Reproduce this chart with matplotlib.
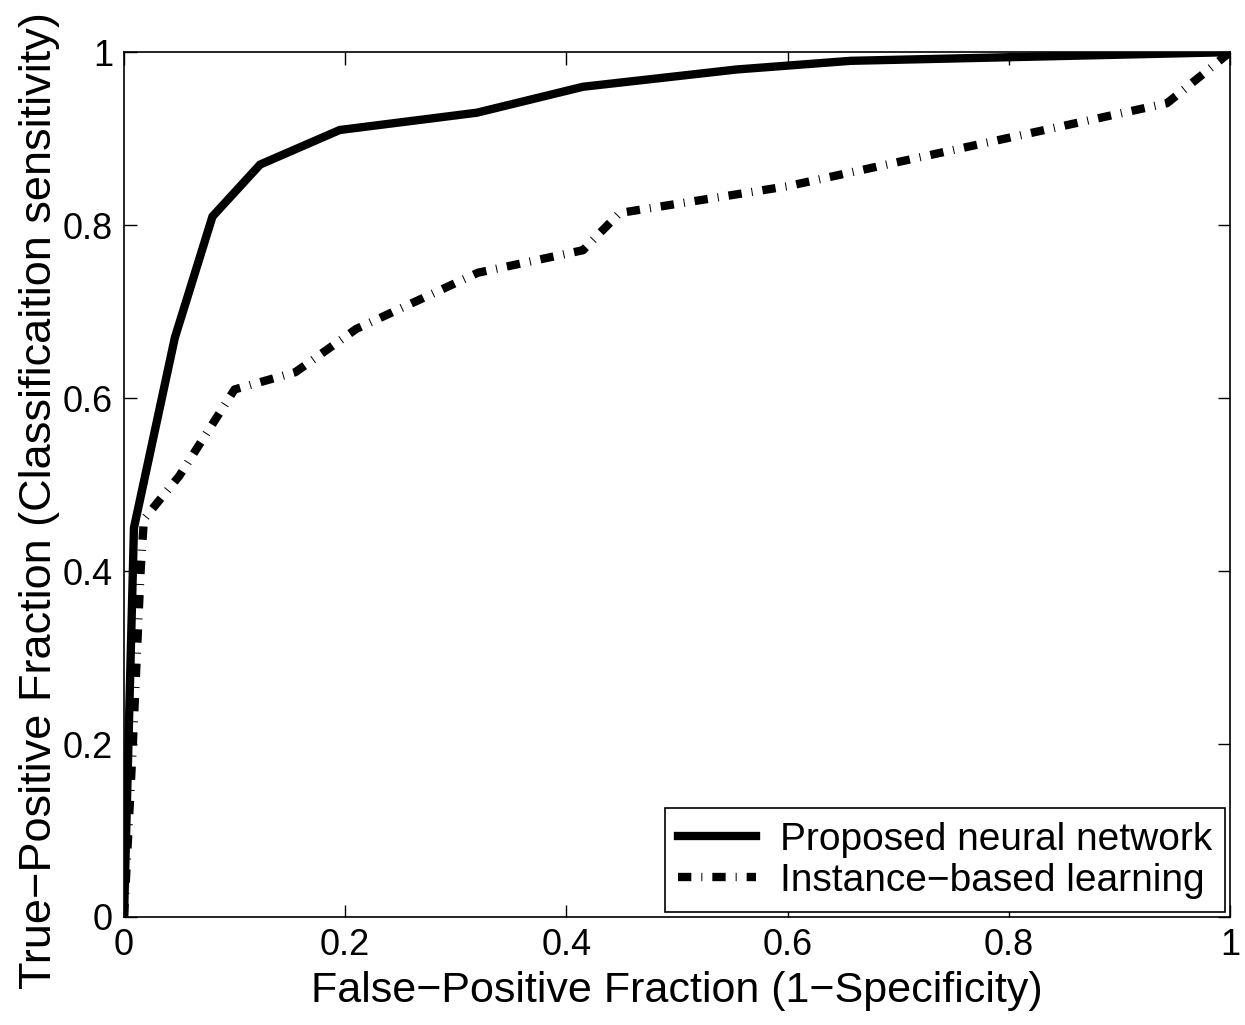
import matplotlib.pyplot as plt

plt.rcParams['font.family'] = ['Liberation Sans', 'DejaVu Sans']

# ROC points
fpf_nn = [0, 0.009, 0.046, 0.080, 0.123, 0.195, 0.319, 0.415, 0.554, 0.657, 1.0]
tpf_nn = [0, 0.45, 0.67, 0.81, 0.87, 0.91, 0.93, 0.96, 0.98, 0.99, 1.0]

fpf_ibl = [0, 0.008, 0.015, 0.018, 0.05, 0.10, 0.155, 0.21, 0.32, 0.415, 0.448, 0.60, 0.943, 1.0]
tpf_ibl = [0, 0.20, 0.40, 0.46, 0.51, 0.61, 0.63, 0.68, 0.745, 0.771, 0.814, 0.845, 0.941, 1.0]

ticks = [0, 0.2, 0.4, 0.6, 0.8, 1]
tick_labels = ['0', '0.2', '0.4', '0.6', '0.8', '1']

fig = plt.figure(figsize=(12.45, 10.25), dpi=100)
ax = fig.add_axes([0.0996, 0.1054, 0.8884, 0.8437])

ax.plot(fpf_nn, tpf_nn, color='black', lw=6, solid_joinstyle='miter',
        label='Proposed neural network')
ax.plot(fpf_ibl, tpf_ibl, color='black', lw=6, dashes=[1.6, 1.2, 0.12, 1.2],
        dash_capstyle='butt', label='Instance\u2212based learning')

ax.set_xlim(0, 1)
ax.set_ylim(0, 1)
ax.set_xticks(ticks)
ax.set_xticklabels(tick_labels)
ax.set_yticks(ticks)
ax.set_yticklabels(tick_labels)
ax.tick_params(direction='in', length=9, width=1, labelsize=26,
               top=True, right=True, pad=8)
for s in ax.spines.values():
    s.set_linewidth(1.2)

ax.set_xlabel('False\u2212Positive Fraction (1\u2212Specificity)', fontsize=31, labelpad=6)
ax.set_ylabel('True\u2212Positive Fraction (Classificaition sensitivity)', fontsize=32.5)
ax.yaxis.set_label_coords(-0.058, 0.482)

leg = ax.legend(loc='lower right', fontsize=28, frameon=True, fancybox=False,
                edgecolor='black', framealpha=1, handlelength=2.0,
                borderaxespad=0.12, borderpad=0.35, labelspacing=0.12,
                handletextpad=0.6)
leg.get_frame().set_linewidth(1.2)

fig.savefig('out.png', dpi=100)
